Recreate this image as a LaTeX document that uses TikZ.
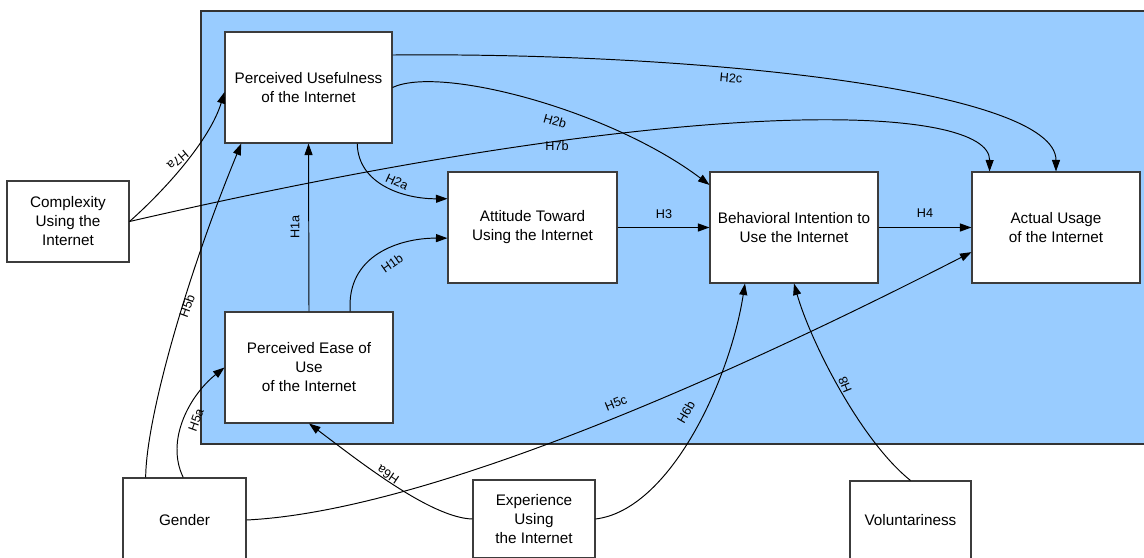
\documentclass[tikz,border=0pt]{standalone}
\usepackage{fontspec}
\setmainfont{Liberation Sans}
\usetikzlibrary{arrows.meta,calc}
\definecolor{bgblue}{RGB}{153,204,255}
\definecolor{boxline}{RGB}{60,60,60}
\begin{document}
\begin{tikzpicture}[x=0.02cm,y=-0.02cm,
  box/.style={draw=boxline,fill=white,line width=0.6pt,align=center,inner sep=0pt,font=\fontsize{8.7}{10.8}\selectfont},
  conn/.style={draw=black,line width=0.55pt,-{Triangle[length=0.23cm,width=0.16cm]}},
  lab/.style={font=\fontsize{7.2}{8.6}\selectfont,inner sep=0pt}]
\useasboundingbox (0,0) rectangle (1144,558);
\clip (0,0) rectangle (1144,558);
\draw[fill=bgblue,draw=black!80,line width=0.6pt] (201,11) rectangle (1170,444);

% nodes
\node[box,minimum width=3.34cm,minimum height=2.22cm] (pu) at (308.5,87.5) {Perceived Usefulness\\of the Internet};
\node[box,minimum width=3.36cm,minimum height=2.22cm] (peou) at (309,367.5) {Perceived Ease of\\Use\\of the Internet};
\node[box,minimum width=3.38cm,minimum height=2.22cm] (att) at (532.5,227.5) {Attitude Toward\\Using the Internet};
\node[box,minimum width=3.36cm,minimum height=2.22cm] (bi) at (794,227.5) {Behavioral Intention to\\Use the Internet};
\node[box,minimum width=3.36cm,minimum height=2.22cm] (au) at (1056,227.5) {Actual Usage\\of the Internet};
\node[box,minimum width=2.44cm,minimum height=1.62cm] (cx) at (68,221.5) {Complexity\\Using the\\Internet};
\node[box,minimum width=2.46cm,minimum height=1.68cm] (gen) at (184.5,520) {Gender};
\node[box,minimum width=2.44cm,minimum height=1.56cm] (exp) at (534,519) {Experience\\Using\\the Internet};
\node[box,minimum width=2.42cm,minimum height=1.56cm] (vol) at (910.5,520) {Voluntariness};

% connectors
\draw[conn] ($(pu.north east)!0.21!(pu.south east)$) .. controls (700,52) and (1056,90) .. (au.north);
\draw[conn] (pu.east) .. controls (440,65) and (610,110) .. ($(bi.north west)!0.12!(bi.south west)$);
\draw[conn] (cx.east) .. controls (700,90) and (990,105) .. ($(au.north west)!0.107!(au.north east)$);
\draw[conn] (cx.east) .. controls (165,190) and (210,140) .. ($(pu.north west)!0.54!(pu.south west)$);
\draw[conn] (peou.north) -- (pu.south);
\draw[conn] ($(peou.north west)!0.744!(peou.north east)$) .. controls (346,255) and (400,238) .. ($(att.north west)!0.595!(att.south west)$);
\draw[conn] ($(pu.south west)!0.79!(pu.south east)$) .. controls (358,185) and (405,199) .. ($(att.north west)!0.243!(att.south west)$);
\draw[conn] (att.east) -- (bi.west);
\draw[conn] (bi.east) -- (au.west);
\draw[conn] ($(gen.north west)!0.187!(gen.north east)$) .. controls (146,420) and (185,280) .. ($(pu.south west)!0.10!(pu.south east)$);
\draw[conn] ($(gen.north west)!0.49!(gen.north east)$) .. controls (165,440) and (190,395) .. (peou.west);
\draw[conn] (gen.east) .. controls (450,510) and (800,340) .. ($(au.north west)!0.72!(au.south west)$);
\draw[conn] (exp.west) .. controls (430,518) and (355,458) .. (peou.south);
\draw[conn] (exp.east) .. controls (670,510) and (730,380) .. ($(bi.south west)!0.21!(bi.south east)$);
\draw[conn] (vol.north) .. controls (860,440) and (810,340) .. (bi.south);

% labels
\node[lab,rotate=-5] (l2c) at (731,78) {H2c};
\node[lab,rotate=-16] (l2b) at (555,121) {H2b};
\node[lab] (l7b) at (557,146) {H7b};
\node[lab,rotate=220] (l7a) at (178,160) {H7a};
\node[lab,rotate=90] (l1a) at (295,227) {H1a};
\node[lab,rotate=-25] (l2a) at (397,182) {H2a};
\node[lab,rotate=35] (l1b) at (392,263) {H1b};
\node[lab] (l3) at (664,214) {H3};
\node[lab] (l4) at (925,213) {H4};
\node[lab,rotate=70] (l5b) at (187,306) {H5b};
\node[lab,rotate=70] (l5a) at (196,420) {H5a};
\node[lab,rotate=22] (l5c) at (616,403) {H5c};
\node[lab,rotate=60] (l6b) at (686,412) {H6b};
\node[lab,rotate=146] (l6a) at (388,475) {H6a};
\node[lab,rotate=112] (l8) at (845,385) {H8};
\end{tikzpicture}
\end{document}
